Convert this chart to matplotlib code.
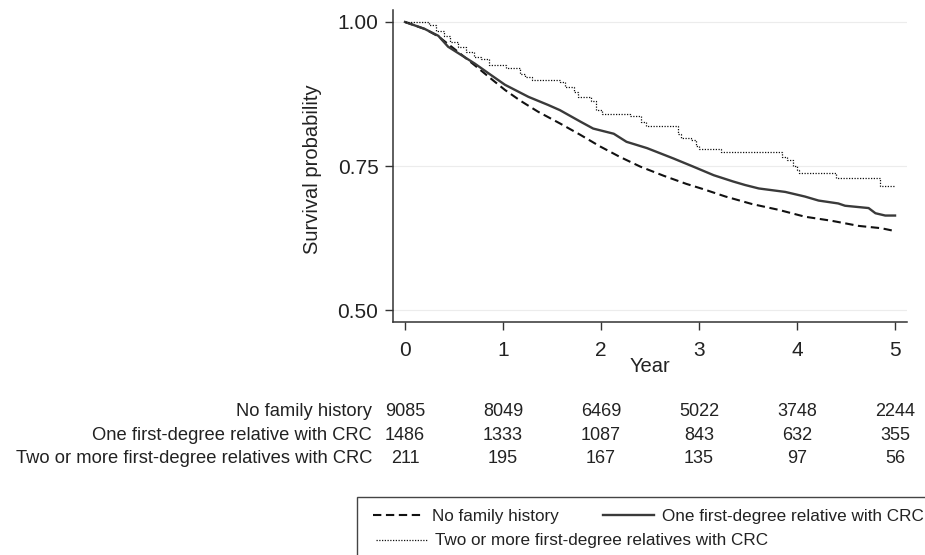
import matplotlib
matplotlib.use("Agg")
import matplotlib.pyplot as plt
import matplotlib.transforms as mtransforms
from matplotlib.patches import Rectangle

plt.rcParams["font.family"] = ["Liberation Sans", "DejaVu Sans"]

# Kaplan-Meier curves (year, survival)
years_nofh = [0, 0.20, 0.34, 0.52, 0.71, 0.86, 1.02, 1.18, 1.36, 1.58, 1.79, 1.99,
              2.19, 2.40, 2.64, 2.87, 3.04, 3.27, 3.54, 3.81, 4.08, 4.35, 4.63,
              4.86, 5.0]
surv_nofh = [1.0, 0.988, 0.975, 0.951, 0.925, 0.904, 0.882, 0.863, 0.844, 0.824,
             0.804, 0.784, 0.766, 0.749, 0.733, 0.719, 0.710, 0.697, 0.684, 0.674,
             0.662, 0.655, 0.646, 0.642, 0.637]

years_one = [0, 0.20, 0.34, 0.44, 0.71, 0.86, 1.02, 1.26, 1.46, 1.58, 1.79, 1.92,
             2.13, 2.26, 2.47, 2.74, 2.94, 3.15, 3.35, 3.47, 3.61, 3.88, 4.08,
             4.22, 4.42, 4.49, 4.73, 4.80, 4.90, 5.0]
surv_one = [1.0, 0.988, 0.976, 0.957, 0.928, 0.910, 0.891, 0.870, 0.856, 0.847,
            0.827, 0.815, 0.806, 0.792, 0.781, 0.763, 0.749, 0.734, 0.723, 0.717,
            0.711, 0.705, 0.697, 0.690, 0.685, 0.681, 0.677, 0.668, 0.664, 0.664]

years_two = [0, 0.24, 0.32, 0.40, 0.46, 0.54, 0.62, 0.70, 0.78, 0.86, 1.03, 1.17,
             1.22, 1.30, 1.58, 1.63, 1.72, 1.77, 1.90, 1.95, 2.01, 2.30, 2.41,
             2.46, 2.79, 2.82, 2.92, 2.97, 3.00, 3.22, 3.85, 3.90, 3.96, 4.00,
             4.02, 4.40, 4.85, 5.0]
surv_two = [1.0, 0.995, 0.985, 0.975, 0.965, 0.957, 0.948, 0.940, 0.935, 0.925,
            0.920, 0.910, 0.905, 0.899, 0.895, 0.888, 0.878, 0.870, 0.862, 0.847,
            0.841, 0.836, 0.827, 0.819, 0.806, 0.798, 0.795, 0.785, 0.780, 0.775,
            0.765, 0.760, 0.750, 0.743, 0.737, 0.729, 0.716, 0.716]

# numbers at risk
risk_years = [0, 1, 2, 3, 4, 5]
group_labels = ["No family history",
                "One first-degree relative with CRC",
                "Two or more first-degree relatives with CRC"]
risk_nofh = [9085, 8049, 6469, 5022, 3748, 2244]
risk_one = [1486, 1333, 1087, 843, 632, 355]
risk_two = [211, 195, 167, 135, 97, 56]

y_ticks = [0.50, 0.75, 1.00]

W, H = 925, 555
fig = plt.figure(figsize=(W / 100, H / 100), dpi=100)
ax = fig.add_axes([393 / W, 1 - 322 / H, (907 - 393) / W, (322 - 10) / H])

dark = "#333333"
txt = "#222222"
ax.plot(years_nofh, surv_nofh, color="#111111", lw=1.5, ls=(0, (4, 2.2)),
        label=group_labels[0])
ax.plot(years_one, surv_one, color="#3a3a3a", lw=1.7, ls="-",
        label=group_labels[1])
ax.plot(years_two, surv_two, color="#111111", lw=0.9, ls=(0, (1, 1.2)),
        drawstyle="steps-post", label=group_labels[2])

ax.set_xlim(-0.1224, 5.122)
ax.set_ylim(0.4792, 1.0208)
ax.set_xticks(risk_years)
ax.set_yticks(y_ticks)
ax.set_yticklabels([f"{v:.2f}" for v in y_ticks])
ax.grid(axis="y", color="#ececec", lw=0.8)
ax.set_axisbelow(True)

for side in ["top", "right"]:
    ax.spines[side].set_visible(False)
for side in ["left", "bottom"]:
    ax.spines[side].set_color(dark)
    ax.spines[side].set_linewidth(1.1)
ax.tick_params(direction="out", length=5.5, width=1, color=dark,
               labelsize=15, labelcolor=txt)
ax.tick_params(axis="x", pad=8)
ax.tick_params(axis="y", pad=5)

ax.set_ylabel("Survival probability", fontsize=14.5, color=txt, va="center")
ax.yaxis.set_label_coords((312 - 393) / 514, 0.49)
ax.set_xlabel("Year", fontsize=14.5, color=txt, va="center")
ax.xaxis.set_label_coords(0.5, (322 - 367) / 312)

# risk table
trans = mtransforms.blended_transform_factory(ax.transData, fig.transFigure)
rows = [risk_nofh, risk_one, risk_two]
row_y = [1 - 416 / H, 1 - 440 / H, 1 - 463 / H]
for label, counts, ry in zip(group_labels, rows, row_y):
    fig.text(372 / W, ry, label, ha="right", va="baseline", fontsize=13.2,
             color=txt)
    for yr, n in zip(risk_years, counts):
        ax.text(yr, ry, str(n), transform=trans, ha="center", va="baseline",
                fontsize=13, color=txt, clip_on=False)

# legend box and entries
fig.patches.append(Rectangle((357 / W, -0.05), 0.7, 0.05 + (1 - 497 / H),
                             transform=fig.transFigure, fill=False,
                             edgecolor="#444444", lw=1.0))
handles = ax.get_lines()
entry_pos = [(373 / W, 1 - 516 / H), (603 / W, 1 - 516 / H), (376 / W, 1 - 541 / H)]
for h, (lx, ly) in zip(handles, entry_pos):
    fig.legend(handles=[h], loc="center left", bbox_to_anchor=(lx, ly),
               frameon=False, fontsize=12.3, handlelength=3.0,
               handletextpad=0.45, borderpad=0, borderaxespad=0,
               labelcolor=txt)

fig.savefig("out.png", dpi=100)
